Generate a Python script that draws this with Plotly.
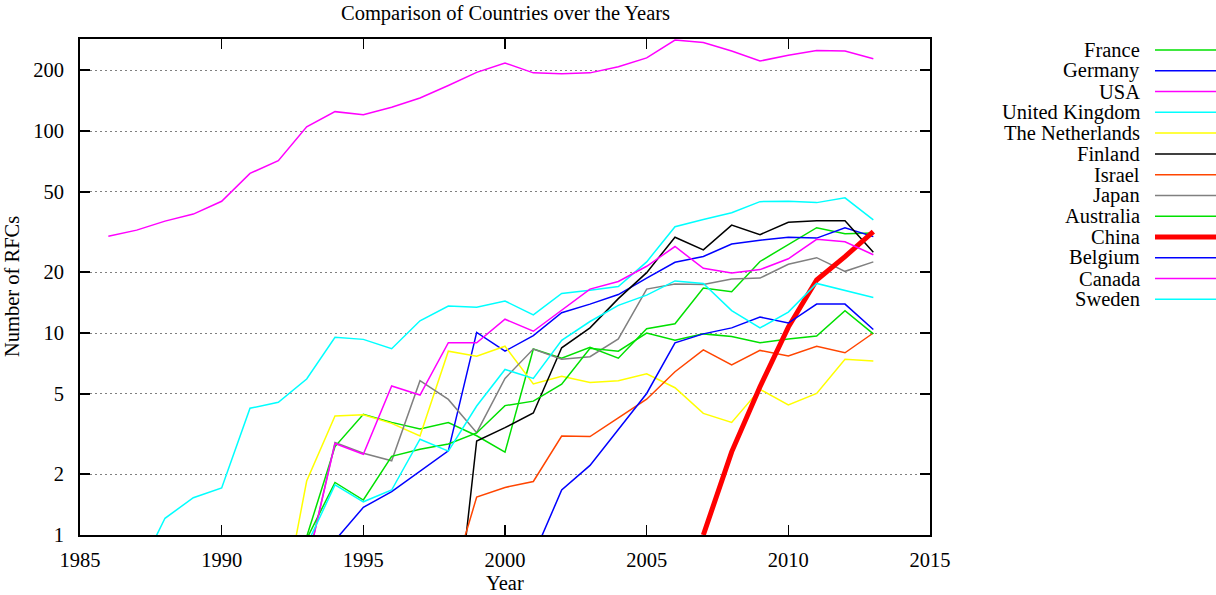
import plotly.graph_objects as go

N = None
years = list(range(1986, 2014))

france = [N, N, N, N, N, N, N, 0.98, 2.74, 3.96, 3.61, 3.35, 3.6, 3.1, 2.57, 8.33, 7.5, 8.5, 7.5, 10.5, 11.1, 16.7, 16.0, 22.6, 27.4, 33.2, 31.0, 31.3]
germany = [N, N, N, N, N, N, N, N, 0.94, 1.37, 1.64, 2.06, 2.61, 10.07, 8.13, 9.7, 12.6, 13.9, 15.5, 18.7, 22.4, 23.9, 27.6, 28.8, 29.8, 29.5, 33.2, 30.0]
usa = [30.1, 32.3, 35.8, 38.8, 44.9, 61.7, 71.3, 105, 124.7, 120.5, 131, 145.6, 168, 195, 217, 194, 192, 194, 208, 230, 282, 274, 249, 222, 237, 250, 249, 228]
uk = [N, 0.63, 1.21, 1.53, 1.71, 4.24, 4.54, 5.92, 9.52, 9.3, 8.36, 11.5, 13.6, 13.4, 14.4, 12.3, 15.7, 16.3, 17.0, 22.5, 33.6, 36.5, 39.4, 44.7, 44.9, 44.2, 46.7, 36.3]
netherlands = [N, N, N, N, N, N, 0.34, 1.85, 3.88, 3.94, 3.57, 3.09, 8.13, 7.68, 8.6, 5.6, 6.1, 5.69, 5.81, 6.28, 5.36, 4.0, 3.61, 5.26, 4.4, 5.02, 7.41, 7.27]
finland = [N, N, N, N, N, N, N, N, N, N, N, N, 0.16, 2.92, 3.4, 4.02, 8.45, 10.6, 14.8, 19.9, 29.8, 25.8, 34.2, 30.7, 35.3, 35.9, 35.9, 25.1]
israel = [N, N, N, N, N, N, N, N, N, N, N, N, 0.52, 1.54, 1.72, 1.84, 3.09, 3.07, 3.8, 4.7, 6.43, 8.25, 6.95, 8.2, 7.7, 8.6, 7.98, 10.0]
japan = [N, N, N, N, N, N, N, 0.7, 2.87, 2.54, 2.33, 5.81, 4.69, 3.21, 5.96, 8.33, 7.41, 7.63, 9.35, 16.5, 17.5, 17.4, 18.5, 18.7, 21.9, 23.6, 20.2, 22.5]
australia = [N, N, N, N, N, N, N, 0.955, 1.82, 1.49, 2.45, 2.66, 2.82, 3.2, 4.37, 4.6, 5.58, 8.4, 8.13, 10.0, 9.2, 9.9, 9.6, 8.95, 9.35, 9.66, 12.9, 9.9]
china = [N, N, N, N, N, N, N, N, N, N, N, N, N, N, N, N, N, N, N, N, N, 1.0, 2.58, 5.42, 10.7, 18.3, 23.9, 31.8]
belgium = [N, N, N, N, N, N, N, N, N, N, N, N, N, N, N, 0.79, 1.67, 2.21, 3.32, 5.02, 8.94, 9.9, 10.6, 12.0, 11.2, 13.9, 13.9, 10.4]
canada = [N, N, N, N, N, N, N, 0.695, 2.84, 2.51, 5.47, 4.93, 8.95, 8.95, 11.7, 10.2, 13.0, 16.5, 18.0, 21.4, 26.8, 20.9, 19.8, 20.6, 23.3, 29.1, 28.3, 24.4]
sweden = [N, N, N, N, N, N, N, 0.89, 1.77, 1.46, 1.67, 2.98, 2.6, 4.35, 6.6, 5.96, 9.2, 11.4, 13.7, 15.4, 18.1, 17.6, 12.9, 10.6, 12.7, 17.6, 16.2, 15.0]

names = ["France", "Germany", "USA", "United Kingdom", "The Netherlands", "Finland",
         "Israel", "Japan", "Australia", "China", "Belgium", "Canada", "Sweden"]
series = [france, germany, usa, uk, netherlands, finland, israel, japan, australia,
          china, belgium, canada, sweden]
colors = ["#00e000", "#0000ff", "#ff00ff", "#00ffff", "#ffff00", "#000000",
          "#ff4500", "#808080", "#00e000", "#ff0000", "#0000ff", "#ff00ff", "#00ffff"]
widths = [1.5, 1.5, 1.5, 1.5, 1.5, 1.5, 1.5, 1.5, 1.5, 5, 1.5, 1.5, 1.5]

y_ticks = [1, 2, 5, 10, 20, 50, 100, 200]
y_ticktext = ["1", "2", "5", "10", "20", "50", "100", "200"]

W, H = 1216, 595
PL, PR, PT, PB = 80, 930, 39, 535
FONT = "Liberation Serif"
FS = 20.5


def xp(px):
    return (px - PL) / (PR - PL)


def yp(py):
    return (PB - py) / (PB - PT)


fig = go.Figure()
for nm, s, c, w in zip(names, series, colors, widths):
    fig.add_trace(go.Scatter(x=years, y=s, mode="lines", name=nm,
                             line=dict(color=c, width=w), connectgaps=False,
                             showlegend=False, hoverinfo="skip"))

# custom gnuplot-style key
row0, step = 50, 20.78
shapes = []
annotations = []
for i, (nm, c, w) in enumerate(zip(names, colors, widths)):
    ry = row0 + i * step
    annotations.append(dict(x=xp(1141), y=yp(ry), xref="paper", yref="paper",
                            text=nm, showarrow=False, xanchor="right", yanchor="middle",
                            borderpad=0,
                            font=dict(family=FONT, size=FS, color="black")))
    shapes.append(dict(type="line", xref="paper", yref="paper",
                       x0=xp(1155), x1=xp(1216), y0=yp(ry), y1=yp(ry),
                       line=dict(color=c, width=w)))

annotations.append(dict(x=xp(505), y=yp(0.5), xref="paper", yref="paper",
                        text="Comparison of Countries over the Years", showarrow=False,
                        xanchor="center", yanchor="top", borderpad=0,
                        font=dict(family=FONT, size=20.5, color="black")))
annotations.append(dict(x=xp(505), y=yp(594.5), xref="paper", yref="paper",
                        text="Year", showarrow=False, xanchor="center", yanchor="bottom",
                        borderpad=0,
                        font=dict(family=FONT, size=FS, color="black")))
annotations.append(dict(x=xp(12), y=yp(287), xref="paper", yref="paper",
                        text="Number of RFCs", showarrow=False, textangle=-90,
                        xanchor="center", yanchor="middle", borderpad=0,
                        font=dict(family=FONT, size=FS, color="black")))

fig.update_layout(
    width=W, height=H,
    margin=dict(l=PL, r=W - PR, t=PT, b=H - PB),
    paper_bgcolor="white", plot_bgcolor="white",
    font=dict(family=FONT, size=FS, color="black"),
    shapes=shapes, annotations=annotations, showlegend=False,
    hovermode=False,
    xaxis=dict(range=[1985, 2015], tickmode="linear", tick0=1985, dtick=5,
               showgrid=False, zeroline=False, showline=True, linewidth=2,
               linecolor="black", mirror="ticks", ticks="inside", ticklen=10,
               tickwidth=1.5, tickcolor="black", ticklabelstandoff=5,
               tickfont=dict(family=FONT, size=FS, color="black")),
    yaxis=dict(type="log", range=[0, (PB - PT) / 202.0], tickvals=y_ticks,
               ticktext=y_ticktext, showgrid=True, gridcolor="#808080",
               griddash="2px,3px", gridwidth=1, zeroline=False, showline=True,
               linewidth=2, linecolor="black", mirror="ticks", ticks="inside",
               ticklen=10, tickwidth=1.5, tickcolor="black", ticklabelstandoff=10,
               tickfont=dict(family=FONT, size=FS, color="black")),
)

fig.write_html("out.html", config={"displayModeBar": False, "staticPlot": True},
               post_script="document.body.style.margin='0';document.body.style.padding='0';")
